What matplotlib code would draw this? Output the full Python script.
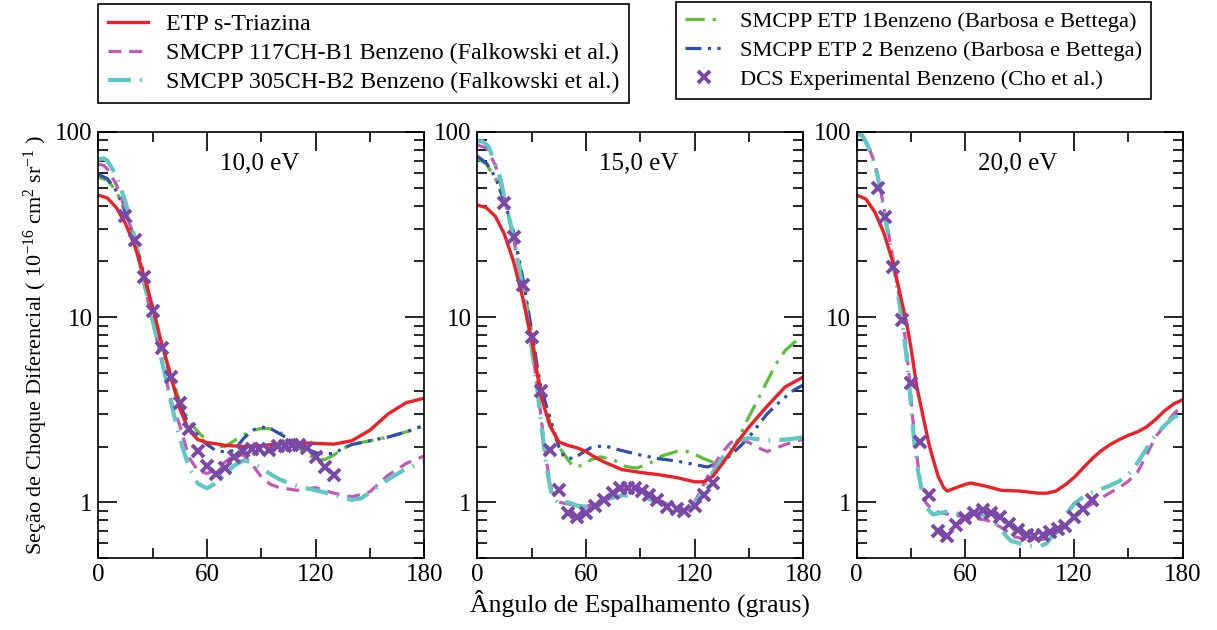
import matplotlib
matplotlib.use("Agg")
import matplotlib.pyplot as plt
from matplotlib.lines import Line2D
from matplotlib.ticker import LogLocator, NullFormatter

plt.rcParams['font.family'] = ['Liberation Serif', 'DejaVu Serif']
plt.rcParams['mathtext.default'] = 'regular'

# ---------------- 10,0 eV ----------------
x_red_10 = [0, 5, 10, 15, 20, 25, 30, 35, 40, 45, 50, 55, 60, 65, 70, 80, 90, 100, 110, 120, 130, 140, 150, 160, 170, 180]
y_red_10 = [45.6, 44, 39, 32, 24.5, 17, 11.3, 7.2, 4.8, 3.2, 2.45, 2.18, 2.1, 2.07, 2.03, 2.0, 2.02, 2.07, 2.1, 2.08, 2.06, 2.15, 2.45, 3.0, 3.45, 3.65]

x_mag_10 = [0, 3, 5, 10, 15, 20, 25, 30, 35, 40, 45, 50, 55, 60, 65, 70, 75, 80, 85, 90, 95, 100, 110, 120, 130, 140, 150, 160, 170, 180]
y_mag_10 = [67, 66, 63, 52, 38, 26, 15.5, 9.5, 5.8, 3.6, 2.6, 1.75, 1.48, 1.43, 1.5, 1.65, 1.8, 1.8, 1.6, 1.37, 1.25, 1.2, 1.16, 1.2, 1.12, 1.07, 1.14, 1.4, 1.62, 1.78]

x_cya_10 = [0, 3, 5, 10, 15, 20, 25, 30, 35, 40, 45, 50, 55, 60, 65, 70, 75, 80, 85, 90, 100, 110, 120, 130, 140, 145, 150, 160, 170, 180]
y_cya_10 = [71, 72, 70, 58, 42, 27, 16, 9.6, 5.9, 3.5, 2.2, 1.55, 1.26, 1.19, 1.27, 1.42, 1.58, 1.68, 1.65, 1.52, 1.33, 1.22, 1.16, 1.1, 1.03, 1.05, 1.13, 1.33, 1.52, 1.65]

x_grn_10 = [0, 5, 10, 15, 20, 25, 30, 35, 40, 45, 50, 55, 60, 65, 70, 75, 80, 85, 90, 95, 100, 105, 110, 115, 120, 125, 130, 135, 140, 150, 160, 170, 180]
y_grn_10 = [57, 55, 48, 37, 27, 17.5, 11.2, 7.2, 4.9, 3.5, 2.75, 2.4, 2.15, 2.0, 2.0, 2.15, 2.3, 2.45, 2.5, 2.5, 2.4, 2.2, 2.0, 1.82, 1.72, 1.7, 1.8, 1.95, 2.05, 2.15, 2.25, 2.4, 2.6]

x_blu_10 = [0, 5, 10, 15, 20, 25, 30, 35, 40, 45, 50, 55, 60, 65, 70, 75, 80, 85, 90, 95, 100, 105, 110, 115, 120, 125, 130, 135, 140, 150, 160, 170, 180]
y_blu_10 = [59, 56, 48, 37, 26.5, 17, 11, 7, 4.7, 3.4, 2.6, 2.3, 2.05, 1.9, 1.87, 1.9, 2.2, 2.45, 2.55, 2.5, 2.35, 2.2, 2.1, 1.95, 1.85, 1.82, 1.84, 1.95, 2.05, 2.15, 2.25, 2.4, 2.6]

x_exp_10 = [15, 20, 25, 30, 35, 40, 45, 50, 55, 60, 65, 70, 75, 80, 85, 89, 94, 99, 103, 107, 111, 115, 120, 125, 130]
y_exp_10 = [35.2, 26, 16.4, 10.8, 6.85, 4.72, 3.44, 2.5, 1.89, 1.57, 1.43, 1.54, 1.75, 1.89, 1.93, 1.93, 1.91, 2.02, 2.02, 2.05, 2.05, 1.97, 1.75, 1.55, 1.40]

# ---------------- 15,0 eV ----------------
x_red_15 = [0, 5, 10, 15, 20, 25, 30, 35, 40, 45, 50, 55, 60, 65, 70, 80, 90, 100, 110, 120, 125, 130, 135, 140, 145, 150, 160, 170, 180]
y_red_15 = [40.3, 39, 35, 28, 20, 12.8, 7.6, 3.8, 2.6, 2.12, 2.03, 1.97, 1.88, 1.75, 1.65, 1.5, 1.45, 1.41, 1.36, 1.29, 1.29, 1.38, 1.6, 1.88, 2.2, 2.55, 3.3, 4.2, 4.75]

x_mag_15 = [0, 5, 10, 15, 20, 25, 30, 33, 35, 38, 41, 45, 50, 55, 60, 65, 70, 75, 80, 85, 90, 100, 110, 115, 120, 125, 130, 135, 140, 145, 150, 155, 160, 170, 180]
y_mag_15 = [85, 82, 66, 44, 27, 14, 7, 4.3, 3.0, 1.7, 1.15, 1.0, 0.98, 0.96, 0.95, 0.98, 1.05, 1.13, 1.18, 1.19, 1.15, 1.03, 0.93, 0.9, 1.0, 1.25, 1.55, 1.85, 2.1, 2.2, 2.1, 1.97, 1.88, 2.05, 2.2]

x_cya_15 = [0, 3, 6, 10, 13, 15, 20, 25, 30, 33, 35, 38, 41, 45, 50, 55, 60, 65, 70, 80, 90, 100, 110, 115, 120, 125, 130, 135, 140, 145, 150, 160, 170, 180]
y_cya_15 = [89, 89, 84, 68, 55, 44, 27, 14.5, 6.8, 4.2, 2.8, 1.6, 1.1, 0.98, 1.0, 0.96, 0.94, 0.95, 1.03, 1.09, 1.08, 1.0, 0.91, 0.89, 0.97, 1.18, 1.45, 1.72, 2.0, 2.18, 2.22, 2.16, 2.18, 2.24]

x_grn_15 = [0, 5, 10, 15, 20, 25, 30, 33, 35, 40, 45, 50, 53, 58, 63, 68, 75, 82, 88, 95, 102, 110, 117, 125, 132, 137, 142, 146, 150, 155, 160, 165, 170, 175, 180]
y_grn_15 = [72, 67, 56, 42, 28.5, 16, 8.3, 5.3, 4.1, 2.7, 2.0, 1.7, 1.56, 1.58, 1.7, 1.76, 1.7, 1.56, 1.53, 1.62, 1.78, 1.88, 1.88, 1.72, 1.62, 1.65, 2.0, 2.4, 2.9, 3.6, 4.5, 5.6, 6.6, 7.3, 7.8]

x_blu_15 = [0, 5, 10, 15, 20, 25, 30, 33, 35, 40, 45, 48, 53, 58, 63, 70, 80, 90, 100, 110, 120, 127, 135, 140, 145, 150, 155, 160, 165, 170, 175, 180]
y_blu_15 = [74, 68, 57, 42, 29, 16.5, 8.5, 5.5, 4.2, 2.9, 2.0, 1.75, 1.72, 1.85, 1.98, 2.02, 1.9, 1.8, 1.72, 1.67, 1.6, 1.55, 1.65, 1.8, 2.0, 2.25, 2.6, 3.0, 3.35, 3.7, 4.05, 4.3]

x_exp_15 = [15, 20, 25, 30, 35, 40, 45, 50, 55, 60, 65, 70, 75, 79, 83, 87, 91, 95, 99, 105, 110, 114, 120, 125, 130]
y_exp_15 = [41.2, 27.2, 14.9, 7.8, 4.0, 1.91, 1.16, 0.87, 0.83, 0.87, 0.96, 1.03, 1.12, 1.19, 1.20, 1.19, 1.15, 1.09, 1.03, 0.94, 0.92, 0.90, 0.96, 1.09, 1.27]

# ---------------- 20,0 eV ----------------
x_red_20 = [0, 5, 10, 15, 20, 25, 28, 30, 33, 37, 40, 42, 45, 48, 50, 55, 60, 63, 70, 80, 90, 100, 105, 110, 115, 120, 125, 130, 135, 140, 145, 150, 155, 160, 165, 170, 175, 180]
y_red_20 = [45.6, 43.5, 37, 28.5, 19.8, 12, 8.8, 6.8, 4.3, 2.8, 2.05, 1.73, 1.38, 1.2, 1.15, 1.2, 1.25, 1.27, 1.23, 1.16, 1.15, 1.12, 1.12, 1.15, 1.24, 1.36, 1.53, 1.72, 1.9, 2.05, 2.18, 2.3, 2.4, 2.55, 2.8, 3.12, 3.4, 3.58]

x_mag_20 = [0, 3, 6, 10, 12, 15, 20, 25, 27, 29, 31, 33, 35, 38, 42, 48, 55, 60, 65, 72, 80, 87, 95, 103, 108, 113, 120, 127, 136, 145, 150, 155, 160, 165, 170, 175, 180]
y_mag_20 = [97, 96, 86, 68, 56, 39, 21, 10.5, 7.4, 4.8, 2.8, 1.85, 1.3, 1.0, 0.9, 0.87, 0.85, 0.83, 0.82, 0.8, 0.73, 0.65, 0.63, 0.63, 0.66, 0.71, 0.82, 0.94, 1.07, 1.2, 1.3, 1.45, 1.8, 2.25, 2.6, 3.0, 3.35]

x_cya_20 = [0, 3, 6, 10, 12, 15, 20, 22, 25, 28, 30, 32, 34, 36, 38, 42, 50, 60, 66, 72, 76, 80, 85, 94, 100, 105, 109, 113, 116, 120, 125, 130, 138, 145, 150, 155, 160, 165, 170, 175, 180]
y_cya_20 = [98, 96, 85, 67, 55, 38, 20, 15, 9.5, 5.6, 3.3, 2.0, 1.45, 1.15, 0.95, 0.86, 0.89, 0.85, 0.87, 0.84, 0.78, 0.7, 0.62, 0.585, 0.573, 0.6, 0.68, 0.77, 0.87, 0.98, 1.07, 1.13, 1.21, 1.3, 1.42, 1.63, 1.95, 2.3, 2.6, 2.88, 3.0]

x_exp_20 = [12, 15.5, 20, 25, 30, 35, 40, 45, 50, 55, 60, 65, 70, 74, 79, 84, 89, 94, 98, 103, 107, 111, 115, 120, 125, 130]
y_exp_20 = [49.6, 34.7, 18.6, 9.7, 4.4, 2.12, 1.09, 0.70, 0.66, 0.75, 0.82, 0.88, 0.905, 0.87, 0.83, 0.76, 0.71, 0.665, 0.655, 0.665, 0.69, 0.72, 0.74, 0.83, 0.92, 1.03]

energies = ["10,0 eV", "15,0 eV", "20,0 eV"]

labels_1 = ["ETP s-Triazina",
            "SMCPP 117CH-B1 Benzeno (Falkowski et al.)",
            "SMCPP 305CH-B2 Benzeno (Falkowski et al.)"]
labels_2 = ["SMCPP ETP 1Benzeno (Barbosa e Bettega)",
            "SMCPP ETP 2 Benzeno (Barbosa e Bettega)",
            "DCS Experimental Benzeno (Cho et al.)"]

# styles
st_red = dict(color="#ee1f26", lw=2.4, ls="-")
st_mag = dict(color="#c457b8", lw=2.3, ls=(0, (4, 2.5)))
st_cya = dict(color="#5ec9c4", lw=3.0, ls=(0, (5.5, 2.2, 0.4, 2.2)))
st_grn = dict(color="#5cbf3a", lw=2.3, ls=(0, (6, 2.5, 1, 2.5)))
st_blu = dict(color="#2f4fb0", lw=2.3, ls=(0, (5, 2, 1, 2, 1, 2)))
st_exp = dict(color="#7a48a6", ls="none", marker="x", ms=9, mew=2.8)

W, H = 1217, 630
fig = plt.figure(figsize=(W / 100, H / 100), dpi=100)
lefts = [98.3, 477.3, 856.7]
axes = [fig.add_axes([l / W, (H - 558) / H, 326 / W, 426 / H]) for l in lefts]

panels = [
    [(x_grn_10, y_grn_10, st_grn), (x_blu_10, y_blu_10, st_blu), (x_mag_10, y_mag_10, st_mag),
     (x_cya_10, y_cya_10, st_cya), (x_red_10, y_red_10, st_red), (x_exp_10, y_exp_10, st_exp)],
    [(x_grn_15, y_grn_15, st_grn), (x_blu_15, y_blu_15, st_blu), (x_mag_15, y_mag_15, st_mag),
     (x_cya_15, y_cya_15, st_cya), (x_red_15, y_red_15, st_red), (x_exp_15, y_exp_15, st_exp)],
    [(x_mag_20, y_mag_20, st_mag), (x_cya_20, y_cya_20, st_cya), (x_red_20, y_red_20, st_red),
     (x_exp_20, y_exp_20, st_exp)],
]

for ax, series, en in zip(axes, panels, energies):
    for xs, ys, st in series:
        ax.plot(xs, ys, **st)
    ax.set_yscale("log")
    ax.set_xlim(0, 180)
    ax.set_ylim(0.5, 100)
    ax.set_xticks([0, 60, 120, 180])
    ax.set_xticks([30, 90, 150], minor=True)
    ax.set_yticks([1, 10, 100])
    ax.set_yticklabels(["1", "10", "100"])
    ax.yaxis.set_minor_locator(LogLocator(base=10, subs=range(2, 10)))
    ax.yaxis.set_minor_formatter(NullFormatter())
    ax.tick_params(which="both", direction="in", top=True, right=True, width=1.2, labelsize=18)
    ax.tick_params(which="major", length=14, pad=4)
    ax.tick_params(which="minor", length=7)
    for sp in ax.spines.values():
        sp.set_linewidth(1.2)
    ax.text(0.495, 0.927, en, transform=ax.transAxes, ha="center", va="center", fontsize=18)

axes[0].set_ylabel("Seção de Choque Diferencial ( 10$^{-16}$ cm$^{2}$ sr$^{-1}$ )", fontsize=16, labelpad=4)
axes[1].set_xlabel("Ângulo de Espalhamento (graus)", fontsize=18.5, labelpad=3)

h1 = [Line2D([], [], **st_red), Line2D([], [], **st_mag), Line2D([], [], **st_cya)]
h2 = [Line2D([], [], **st_grn), Line2D([], [], **st_blu), Line2D([], [], **st_exp)]

leg_kw = dict(loc="upper left", frameon=True, fancybox=False, edgecolor="black", framealpha=1,
              borderpad=0.4, handlelength=1.7, handletextpad=0.75, borderaxespad=0)
leg1 = fig.legend(h1, labels_1, bbox_to_anchor=(98 / W, 1 - 4 / H), fontsize=17.3,
                  labelspacing=0.3, **leg_kw)
leg2 = fig.legend(h2, labels_2, bbox_to_anchor=(676 / W, 1 - 2 / H), fontsize=16.2,
                  labelspacing=0.38, **leg_kw)
for lg in (leg1, leg2):
    lg.get_frame().set_linewidth(1.2)

fig.savefig("out.png", dpi=100)
